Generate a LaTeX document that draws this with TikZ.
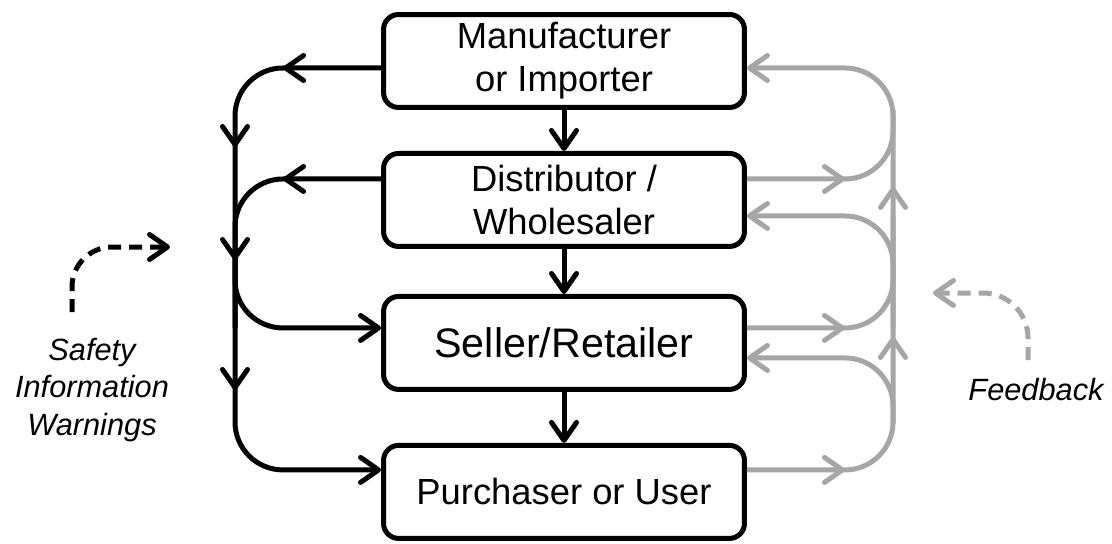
\documentclass[tikz,border=0pt]{standalone}
\usepackage{fontspec}
\setmainfont{Liberation Sans}
\usetikzlibrary{arrows.meta, positioning, decorations.markings}
\definecolor{fbgray}{RGB}{166,166,166}

\begin{document}
\begin{tikzpicture}[
        x=0.02cm, y=-0.02cm,
        >={Straight Barb[length=0.36cm, width=0.5cm, round]},
        stage/.style={draw, line width=0.1cm, rounded corners=0.3cm, align=center, minimum height=1.86cm, minimum width=7.22cm, font=\fontsize{20.7}{24.5}\selectfont},
        flow/.style={line width=0.1cm, black},
        back/.style={line width=0.1cm, fbgray},
        roundbend/.style={rounded corners=0.96cm},
        dashline/.style={dash pattern=on 0.26cm off 0.16cm},
        tipat/.style={postaction={decorate, decoration={markings, mark=at position #1 with {\arrow{>}}}}},
        note/.style={align=center, font=\fontsize{17.5}{21.5}\selectfont\itshape}
    ]
        \useasboundingbox (0,0) rectangle (1112,544);

        % Define nodes for the supply chain
        \node[stage] (man) at (564,61) {Manufacturer\\or Importer};
        \node[stage, below=0.82cm of man] (dist) {Distributor /\\Wholesaler};
        \node[stage, below=0.9cm of dist, font=\fontsize{23.5}{27}\selectfont] (sell) {Seller/Retailer};
        \node[stage, below=1.02cm of sell] (user) {Purchaser or User};

        % Ports on the box sides
        \coordinate (mL) at ([yshift=-0.14cm]man.west);
        \coordinate (mR) at ([yshift=-0.14cm]man.east);
        \coordinate (dL) at ([yshift=0.42cm]dist.west);
        \coordinate (dRo) at ([yshift=0.42cm]dist.east);
        \coordinate (dRi) at ([yshift=-0.32cm]dist.east);
        \coordinate (sL) at ([yshift=0.30cm]sell.west);
        \coordinate (sRo) at ([yshift=0.30cm]sell.east);
        \coordinate (sRi) at ([yshift=-0.30cm]sell.east);
        \coordinate (uL) at ([yshift=0.44cm]user.west);
        \coordinate (uR) at ([yshift=0.44cm]user.east);
        \coordinate (lx) at (235,0);
        \coordinate (rx) at (893,0);
        \coordinate (rlow) at (893,424);

        % Down the chain
        \draw[flow, ->] (man) -- (dist);
        \draw[flow, ->] (dist) -- (sell);
        \draw[flow, ->] (sell) -- (user);

        % Safety information on the left
        \draw[flow, roundbend, ->, tipat=1.96cm, tipat=4.09cm, tipat=6.35cm, tipat=8.95cm] (mL) -| (lx |- uL) -- (uL);
        \draw[flow, roundbend, tipat=1.96cm] (dL) -| (lx |- sL);
        \draw[flow, roundbend, ->] (lx |- dist.south) |- (sL);

        % Feedback on the right
        \draw[back, roundbend, ->, tipat=1.96cm, tipat=5.17cm, tipat=8.17cm] (uR) -| (rx |- mR) -- (mR);
        \draw[back, roundbend, tipat=1.96cm] (dRo) -| (rx |- man.south);
        \draw[back, roundbend, ->] (rx |- sRo) |- (dRi);
        \draw[back, roundbend, tipat=1.96cm] (sRo) -| (rx |- dRi);
        \draw[back, roundbend, ->] (rlow) |- (sRi);

        % Labels
        \node[note] (safety) at (92,390) {Safety\\Information\\Warnings};
        \node[note, anchor=base] (feedback) at (1036,400) {Feedback};

        \coordinate (warnfrom) at (72,312);
        \coordinate (warnto) at (170,247);
        \draw[flow, dashline, ->, rounded corners=0.8cm] (warnfrom) |- (warnto);
        \coordinate (fbfrom) at (1028,360);
        \coordinate (fbto) at (933,293);
        \draw[back, dashline, ->, rounded corners=0.9cm] (fbfrom) |- (fbto);

    \end{tikzpicture}
\end{document}
